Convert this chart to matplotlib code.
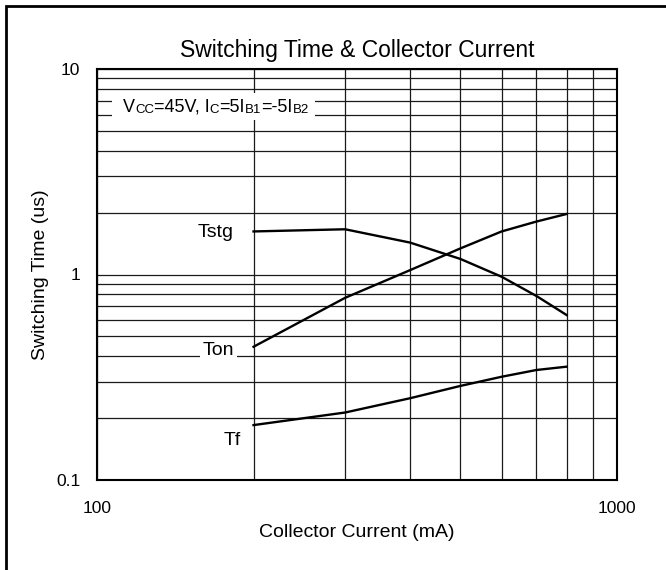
import matplotlib
matplotlib.use("Agg")
import matplotlib.pyplot as plt
from matplotlib.patches import Rectangle
from matplotlib.ticker import NullFormatter

plt.rcParams['font.family'] = ['Liberation Sans', 'DejaVu Sans']

# collector current (mA)
ic = [200, 300, 400, 500, 600, 700, 800]
# switching times (us)
t_stg = [1.62, 1.66, 1.43, 1.19, 0.975, 0.786, 0.635]
t_on = [0.445, 0.77, 1.05, 1.34, 1.62, 1.81, 1.97]
t_f = [0.185, 0.213, 0.25, 0.287, 0.318, 0.343, 0.356]

x_ticks = [100, 1000]
y_ticks = [0.1, 1, 10]
y_tick_labels = ['0.1', '1', '10']

fig = plt.figure(figsize=(6.66, 5.70), dpi=100)
ax = fig.add_axes([97 / 666, 1 - 480 / 570, 520 / 666, 411 / 570])

ax.set_xscale('log')
ax.set_yscale('log')
ax.set_xlim(100, 1000)
ax.set_ylim(0.1, 10)

# grid
ax.grid(True, which='both', axis='both', color='#1a1a1a', linewidth=0.9)
ax.set_axisbelow(True)

for s in ax.spines.values():
    s.set_linewidth(1.5)
    s.set_color('black')

ax.plot(ic, t_stg, color='black', lw=1.7, zorder=3)
ax.plot(ic, t_on, color='black', lw=1.7, zorder=3)
ax.plot(ic, t_f, color='black', lw=1.7, zorder=3)

ax.set_xticks(x_ticks)
ax.set_xticklabels([str(v) for v in x_ticks])
ax.set_yticks(y_ticks)
ax.set_yticklabels(y_tick_labels)
ax.xaxis.set_minor_formatter(NullFormatter())
ax.yaxis.set_minor_formatter(NullFormatter())
ax.tick_params(which='both', length=0, labelsize=12.5)
ax.tick_params(axis='x', pad=15)
ax.tick_params(axis='y', pad=12)

ax.set_title('Switching Time & Collector Current', fontsize=16.5, pad=9)
ax.set_xlabel('Collector Current (mA)', fontsize=14, labelpad=6)
ax.set_ylabel('Switching Time (us)', fontsize=14, labelpad=5)

# curve labels
ax.text(0.229, 0.601, 'Tstg', transform=ax.transAxes, fontsize=14,
        ha='center', va='center')
ax.text(0.233, 0.316, 'Ton', transform=ax.transAxes, fontsize=14,
        ha='center', va='center',
        bbox=dict(facecolor='white', edgecolor='none', pad=2))
ax.text(0.26, 0.097, 'Tf', transform=ax.transAxes, fontsize=14,
        ha='center', va='center')

# condition label, big letters with small-size suffixes
parts = [('V', 13), ('CC', 9.5), ('=45V, I', 13), ('C', 9.5), ('=5I', 13),
         ('B1', 9.5), ('=-5I', 13), ('B2', 9.5)]
prev = None
for txt, size in parts:
    if prev is None:
        prev = ax.annotate(txt, xy=(123 / 666, 1 - 112 / 570), xycoords='figure fraction',
                           fontsize=size, ha='left', va='baseline', zorder=4)
    else:
        prev = ax.annotate(txt, xy=(1, 0), xycoords=prev, fontsize=size,
                           ha='left', va='bottom', zorder=4)
ax.add_patch(Rectangle((0.029, 0.876), 0.39, 0.066, transform=ax.transAxes,
                       facecolor='white', edgecolor='none', zorder=2.5))

# outer frame (right and bottom edges fall outside the picture)
fig.add_artist(Rectangle((6 / 666, -0.1), 1.2, 1 - 6 / 570 + 0.1,
                         transform=fig.transFigure, fill=False,
                         edgecolor='black', linewidth=2))

fig.savefig('out.png', dpi=100)
